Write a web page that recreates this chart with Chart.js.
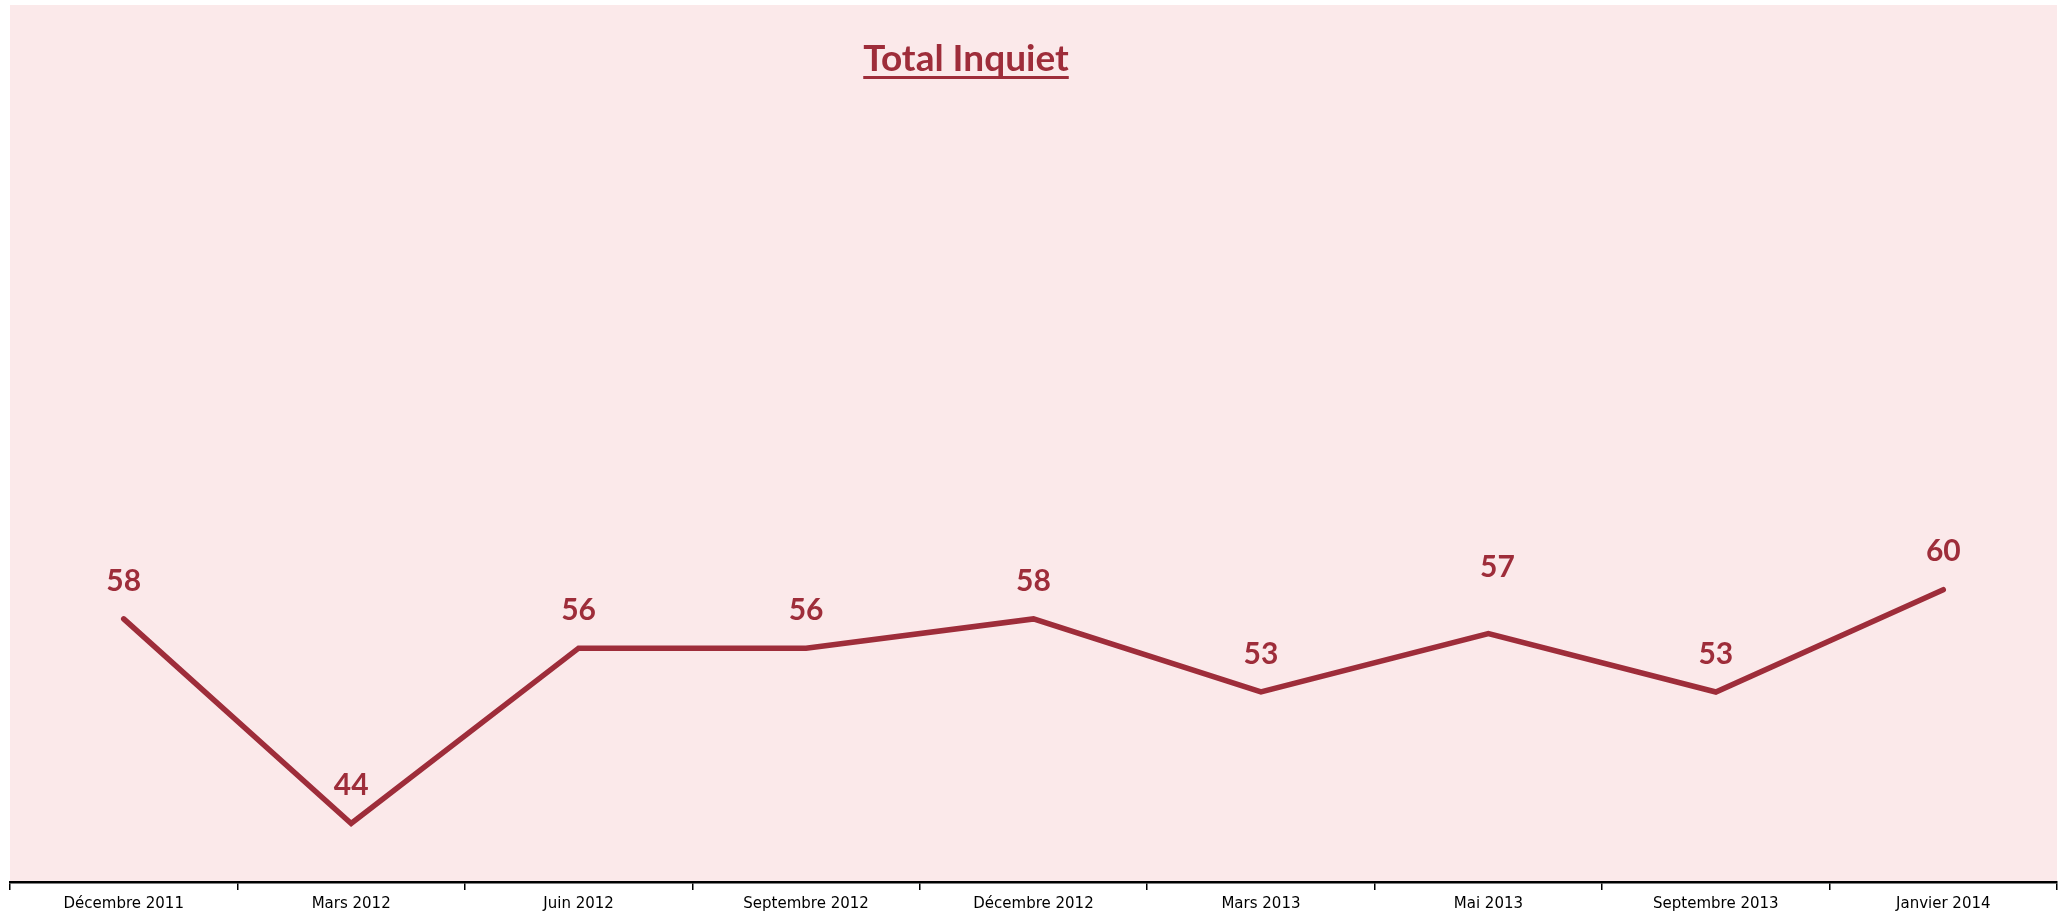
<!DOCTYPE html>
<html>
<head>
<meta charset="utf-8">
<script src="https://cdn.jsdelivr.net/npm/chart.js@4"></script>
<style>
  html, body { margin: 0; padding: 0; background: #ffffff; }
  #wrap { width: 2067px; height: 918px; }
</style>
</head>
<body>
<div id="wrap"><canvas id="inquietChart"></canvas></div>
<script>
const categories = ['Décembre 2011', 'Mars 2012', 'Juin 2012', 'Septembre 2012', 'Décembre 2012',
    'Mars 2013', 'Mai 2013', 'Septembre 2013', 'Janvier 2014'];
const totalInquiet = [58, 44, 56, 56, 58, 53, 57, 53, 60];
const chartTitle = 'Total Inquiet';

const dark = '#9e2d3a';

// pink plot background
const plotBackground = {
    id: 'plotBackground',
    beforeDraw(chart) {
        const { ctx, chartArea: a } = chart;
        ctx.save();
        ctx.fillStyle = '#fbe9ea';
        ctx.fillRect(a.left, a.top, a.right - a.left, a.bottom - a.top);
        ctx.restore();
    }
};

// underlined title, a bit left of center like the original
const underlinedTitle = {
    id: 'underlinedTitle',
    afterDraw(chart) {
        const ctx = chart.ctx;
        ctx.save();
        ctx.font = 'bold 37px Lato';
        ctx.fillStyle = dark;
        ctx.textAlign = 'center';
        ctx.textBaseline = 'alphabetic';
        const x = 966, y = 71;
        ctx.fillText(chartTitle, x, y);
        const w = ctx.measureText(chartTitle).width;
        ctx.fillRect(x - w / 2, y + 5, w, 3);
        ctx.restore();
    }
};

// value labels above each point
const valueLabels = {
    id: 'valueLabels',
    afterDatasetsDraw(chart) {
        const ctx = chart.ctx;
        const meta = chart.getDatasetMeta(0);
        const extraLift = { 6: 28 };
        const shiftX = { 6: 9 };
        ctx.save();
        ctx.font = 'bold 30px Lato';
        ctx.fillStyle = dark;
        ctx.textAlign = 'center';
        ctx.textBaseline = 'middle';
        meta.data.forEach((pt, i) => {
            const v = chart.data.datasets[0].data[i];
            ctx.fillText(String(v), pt.x + (shiftX[i] || 0), pt.y - 38 - (extraLift[i] || 0));
        });
        ctx.restore();
    }
};

new Chart(document.getElementById('inquietChart'), {
    type: 'line',
    data: {
        labels: categories,
        datasets: [{
            label: chartTitle,
            data: totalInquiet,
            borderColor: dark,
            borderWidth: 5.5,
            borderJoinStyle: 'miter',
            borderCapStyle: 'round',
            pointRadius: 0,
            fill: false,
            tension: 0
        }]
    },
    options: {
        responsive: true,
        maintainAspectRatio: false,
        animation: false,
        layout: { padding: { left: 10, right: 10, top: 5, bottom: 0 } },
        plugins: {
            legend: { display: false },
            title: { display: false },
            tooltip: { enabled: false }
        },
        scales: {
            x: {
                offset: true,
                grid: {
                    display: true,
                    drawOnChartArea: false,
                    drawTicks: true,
                    offset: true,
                    tickLength: 8,
                    color: '#000000',
                    lineWidth: 1.5
                },
                border: { display: true, color: '#000000', width: 2.5 },
                ticks: {
                    color: '#000000',
                    font: { family: 'DejaVu Sans', size: 15 },
                    padding: 5,
                    maxRotation: 0,
                    autoSkip: false
                }
            },
            y: {
                display: false,
                min: 40,
                max: 100
            }
        }
    },
    plugins: [plotBackground, underlinedTitle, valueLabels]
});
</script>
</body>
</html>
